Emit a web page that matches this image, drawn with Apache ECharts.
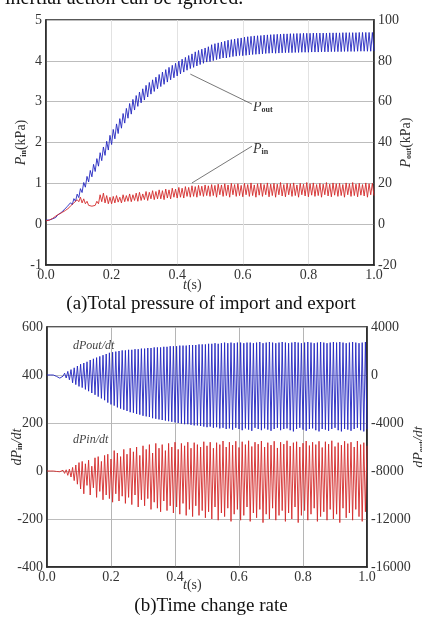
<!DOCTYPE html>
<html>
<head>
<meta charset="utf-8">
<script src="https://cdn.jsdelivr.net/npm/echarts@6/dist/echarts.min.js"></script>
<style>
  html, body { margin: 0; padding: 0; background: #fff; }
  #chart { width: 422px; height: 621px; }
</style>
</head>
<body>
<div id="chart"></div>
<script>
// sampling step of all four traces (s)
const T_STEP = 0.005;
const xTicks = ['0.0', '0.2', '0.4', '0.6', '0.8', '1.0'];

// (a) outlet pressure, kPa (right axis)
const pOut = [
  2.0, 2.3, 2.0, 2.8, 2.6, 3.5, 3.3, 4.4, 4.3, 5.5,
  5.3, 7.0, 6.6, 8.7, 8.0, 10.5, 9.5, 12.5, 11.2, 14.7,
  13.0, 17.4, 15.5, 20.4, 18.1, 23.4, 20.7, 26.3, 23.2, 29.3,
  25.8, 32.1, 28.4, 35.0, 31.1, 37.8, 33.7, 40.6, 36.3, 43.5,
  39.0, 46.4, 41.8, 49.1, 44.4, 51.7, 47.0, 54.2, 49.5, 56.7,
  51.9, 59.1, 53.9, 61.1, 55.9, 63.0, 57.7, 64.7, 59.4, 66.3,
  60.8, 68.0, 62.3, 69.4, 63.7, 70.7, 65.0, 72.0, 66.3, 73.3,
  67.4, 74.5, 68.5, 75.7, 69.6, 76.8, 70.7, 77.8, 71.7, 78.8,
  72.6, 79.9, 73.6, 80.8, 74.5, 81.7, 75.4, 82.6, 76.2, 83.4,
  76.8, 84.4, 77.5, 85.1, 78.2, 85.7, 78.8, 86.3, 79.4, 86.9,
  79.6, 87.9, 80.1, 88.4, 80.6, 88.8, 81.0, 89.2, 81.4, 89.6,
  81.4, 90.1, 81.8, 90.4, 82.1, 90.7, 82.3, 91.0, 82.6, 91.2,
  82.5, 91.6, 82.7, 91.8, 82.9, 92.0, 83.1, 92.2, 83.2, 92.3,
  83.3, 92.4, 83.4, 92.6, 83.6, 92.7, 83.7, 92.8, 83.8, 92.9,
  83.7, 93.0, 83.8, 93.1, 83.9, 93.2, 84.0, 93.2, 84.0, 93.3,
  84.0, 93.3, 84.1, 93.4, 84.1, 93.4, 84.2, 93.5, 84.2, 93.5,
  84.2, 93.5, 84.3, 93.6, 84.3, 93.6, 84.3, 93.6, 84.4, 93.6,
  84.4, 93.6, 84.4, 93.7, 84.5, 93.7, 84.5, 93.7, 84.5, 93.7,
  84.5, 93.8, 84.6, 93.8, 84.6, 93.8, 84.6, 93.8, 84.6, 93.8,
  84.7, 93.9, 84.7, 93.9, 84.7, 93.9, 84.7, 93.9, 84.7, 93.9,
  84.8
];

// (a) inlet pressure, kPa (left axis)
const pIn = [
  0.08, 0.09, 0.10, 0.12, 0.14, 0.17, 0.20, 0.22, 0.25, 0.27,
  0.29, 0.32, 0.34, 0.38, 0.40, 0.45, 0.43, 0.52, 0.48, 0.60,
  0.55, 0.66, 0.52, 0.62, 0.50, 0.56, 0.46, 0.50, 0.44, 0.48,
  0.46, 0.56, 0.50, 0.72, 0.55, 0.76, 0.52, 0.70, 0.50, 0.66,
  0.50, 0.68, 0.52, 0.70, 0.54, 0.66, 0.52, 0.72, 0.55, 0.70,
  0.56, 0.74, 0.55, 0.72, 0.58, 0.76, 0.56, 0.78, 0.58, 0.74,
  0.60, 0.80, 0.58, 0.78, 0.62, 0.82, 0.60, 0.80, 0.62, 0.84,
  0.62, 0.82, 0.60, 0.86, 0.64, 0.84, 0.62, 0.88, 0.66, 0.86,
  0.64, 0.90, 0.66, 0.88, 0.64, 0.92, 0.68, 0.90, 0.66, 0.94,
  0.68, 0.92, 0.66, 0.95, 0.70, 0.93, 0.68, 0.96, 0.70, 0.94,
  0.68, 0.97, 0.70, 0.95, 0.66, 0.98, 0.72, 0.96, 0.68, 0.99,
  0.70, 0.96, 0.66, 1.00, 0.72, 0.97, 0.68, 0.99, 0.70, 0.95,
  0.67, 1.00, 0.72, 0.97, 0.68, 1.01, 0.70, 0.96, 0.66, 0.99,
  0.71, 1.00, 0.68, 0.97, 0.72, 1.01, 0.67, 0.98, 0.70, 1.00,
  0.66, 0.98, 0.72, 1.02, 0.69, 0.97, 0.67, 1.00, 0.72, 0.99,
  0.68, 1.01, 0.70, 0.96, 0.66, 1.00, 0.72, 0.98, 0.69, 1.02,
  0.67, 0.99, 0.71, 1.01, 0.68, 0.97, 0.70, 1.00, 0.66, 0.98,
  0.72, 1.02, 0.69, 0.98, 0.67, 1.01, 0.71, 0.99, 0.68, 1.00,
  0.70, 0.97, 0.66, 1.01, 0.72, 0.99, 0.68, 1.02, 0.70, 0.98,
  0.67, 1.00, 0.71, 0.97, 0.69, 1.01, 0.66, 0.99, 0.72, 1.00,
  0.70
];

// (b) dPout/dt (right axis)
const dPout = [
  0, 0, 5, 10, 0, -40, -120, -220, -260, -180,
  -100, 150, -250, 300, -400, 450, -650, 600, -800, 750,
  -950, 900, -1050, 1000, -1200, 1100, -1350, 1250, -1500, 1350,
  -1650, 1450, -1800, 1550, -1950, 1650, -2100, 1750, -2300, 1850,
  -2450, 1900, -2550, 1950, -2700, 2000, -2800, 2050, -2900, 2050,
  -3000, 2100, -3100, 2100, -3150, 2150, -3250, 2150, -3300, 2200,
  -3400, 2200, -3450, 2250, -3500, 2250, -3600, 2300, -3650, 2300,
  -3700, 2300, -3750, 2350, -3800, 2350, -3850, 2400, -3900, 2400,
  -3950, 2400, -4000, 2450, -4050, 2450, -4100, 2450, -4100, 2500,
  -4150, 2500, -4200, 2500, -4200, 2550, -4250, 2550, -4300, 2550,
  -4350, 2600, -4300, 2600, -4400, 2650, -4350, 2600, -4450, 2650,
  -4400, 2700, -4500, 2650, -4450, 2700, -4550, 2650, -4400, 2700,
  -4500, 2700, -4600, 2650, -4450, 2700, -4550, 2700, -4650, 2650,
  -4400, 2700, -4500, 2750, -4600, 2650, -4450, 2700, -4550, 2750,
  -4650, 2700, -4500, 2650, -4400, 2700, -4600, 2750, -4500, 2700,
  -4450, 2650, -4600, 2700, -4700, 2750, -4500, 2700, -4400, 2650,
  -4550, 2700, -4650, 2750, -4500, 2700, -4450, 2650, -4600, 2700,
  -4700, 2750, -4500, 2700, -4550, 2650, -4650, 2700, -4500, 2750,
  -4400, 2700, -4600, 2750, -4700, 2700, -4500, 2650, -4550, 2700,
  -4650, 2750, -4500, 2700, -4400, 2650, -4600, 2700, -4700, 2750,
  -4500
];

// (b) dPin/dt (left axis)
const dPin = [
  0, 0, 0, 0, 0, -1, -2, 0, -3, -5,
  3, -10, 5, -18, 8, -25, 15, -40, 25, -55,
  35, -75, 40, -95, 30, -60, 45, -100, 20, -70,
  55, -110, 60, -85, 40, -120, 65, -100, 70, -115,
  50, -130, 85, -95, 75, -125, 60, -105, 90, -135,
  70, -110, 95, -140, 80, -100, 100, -150, 65, -120,
  105, -145, 90, -115, 110, -160, 75, -130, 115, -155,
  95, -170, 110, -125, 85, -165, 115, -145, 100, -175,
  120, -150, 90, -180, 115, -135, 105, -185, 120, -160,
  95, -190, 118, -145, 110, -185, 100, -165, 122, -195,
  105, -170, 120, -200, 95, -150, 118, -205, 110, -175,
  125, -190, 100, -155, 120, -210, 108, -180, 124, -160,
  98, -205, 122, -185, 110, -150, 126, -210, 102, -175,
  120, -195, 112, -160, 125, -215, 100, -180, 118, -200,
  108, -155, 124, -205, 96, -185, 120, -165, 112, -210,
  126, -175, 104, -200, 118, -150, 122, -215, 100, -185,
  116, -165, 125, -205, 106, -180, 120, -155, 110, -210,
  124, -190, 98, -170, 122, -205, 112, -160, 126, -200,
  102, -180, 118, -215, 108, -155, 124, -195, 114, -175,
  120, -205, 100, -160, 125, -190, 110, -210, 118, -170,
  105
];

// leader lines of the labels in (a), [t, value]
const pOutLeader = [[0.44, 73.5], [0.628, 58.8]];
const pInLeader = [[0.445, 1.01], [0.628, 1.91]];

const SERIF = 'Liberation Serif';
const BLUE = '#2226c0';
const RED = '#d42a2a';

function pairs(values) {
  return values.map((v, i) => [Math.round(i * T_STEP * 1000) / 1000, v]);
}

function xAxisFor(gridIndex) {
  return {
    type: 'value', gridIndex, min: 0, max: 1, interval: 0.2,
    axisLine: {show: true, onZero: false, lineStyle: {color: '#222', width: 1.5}},
    axisTick: {show: false},
    axisLabel: {
      margin: 3, color: '#333', fontFamily: SERIF, fontSize: 14,
      formatter: v => xTicks[Math.round(v / 0.2)]
    },
    splitLine: {show: true, lineStyle: {color: gridIndex === 0 ? '#e2e2e2' : '#b5b5b5', width: 1}}
  };
}

function yAxisFor(gridIndex, position, min, max, interval, name, nameGap, split) {
  return {
    type: 'value', gridIndex, position, min, max, interval,
    axisLine: {show: true, onZero: false, lineStyle: {color: '#222', width: 1.5}},
    axisTick: {show: false},
    axisLabel: {margin: 4, color: '#333', fontFamily: SERIF, fontSize: 14, formatter: v => String(v)},
    splitLine: {show: split, lineStyle: {color: '#bdbdbd', width: 1}},
    name, nameLocation: 'middle', nameRotate: 90, nameGap, nameMoveOverlap: false,
    nameTextStyle: {
      color: '#333', fontFamily: SERIF, fontSize: 14,
      rich: {
        i: {fontFamily: SERIF, fontStyle: 'italic', fontSize: 14, color: '#333'},
        s: {fontFamily: SERIF, fontWeight: 'bold', fontSize: 8, color: '#333', padding: [6, 0, 0, 0]},
        n: {fontFamily: SERIF, fontSize: 14, color: '#333'}
      }
    }
  };
}

const chart = echarts.init(document.getElementById('chart'), null, {renderer: 'canvas'});

const lineStyleOf = color => ({color, width: 0.9});

chart.setOption({
  animation: false,
  backgroundColor: '#fff',
  grid: [
    {left: 46, right: 48, top: 20, height: 245, show: true, borderColor: '#222', borderWidth: 1.5,
      containLabel: false, outerBoundsMode: 'none'},
    {left: 47, right: 55, top: 327, height: 240, show: true, borderColor: '#222', borderWidth: 1.5,
      containLabel: false, outerBoundsMode: 'none'}
  ],
  xAxis: [xAxisFor(0), xAxisFor(1)],
  yAxis: [
    yAxisFor(0, 'left', -1, 5, 1, '{i|P}{s|in}{n|(kPa)}', 18, true),
    yAxisFor(0, 'right', -20, 100, 20, '{i|P}{s|out}{n|(kPa)}', 25, false),
    yAxisFor(1, 'left', -400, 600, 200, '{i|dP}{s|in}{i|/dt}', 23, true),
    yAxisFor(1, 'right', -16000, 4000, 4000, '{i|dP}{s|out}{i|/dt}', 45, false)
  ],
  series: [
    {
      name: 'Pout', type: 'line', xAxisIndex: 0, yAxisIndex: 1, data: pairs(pOut),
      showSymbol: false, lineStyle: lineStyleOf(BLUE), z: 3,
      markLine: {
        silent: true, symbol: 'none', label: {show: false},
        lineStyle: {color: '#555', width: 0.8, type: 'solid'},
        data: [[{coord: pOutLeader[0]}, {coord: pOutLeader[1]}]]
      }
    },
    {
      name: 'Pin', type: 'line', xAxisIndex: 0, yAxisIndex: 0, data: pairs(pIn),
      showSymbol: false, lineStyle: lineStyleOf(RED), z: 3,
      markLine: {
        silent: true, symbol: 'none', label: {show: false},
        lineStyle: {color: '#555', width: 0.8, type: 'solid'},
        data: [[{coord: pInLeader[0]}, {coord: pInLeader[1]}]]
      }
    },
    {
      name: 'dPout/dt', type: 'line', xAxisIndex: 1, yAxisIndex: 3, data: pairs(dPout),
      showSymbol: false, lineStyle: lineStyleOf(BLUE), z: 3
    },
    {
      name: 'dPin/dt', type: 'line', xAxisIndex: 1, yAxisIndex: 2, data: pairs(dPin),
      showSymbol: false, lineStyle: lineStyleOf(RED), z: 3
    }
  ],
  graphic: [
    {type: 'text', left: 5, top: -11, style: {text: 'inertial action can be ignored.', font: '20px "Liberation Serif"', fill: '#111'}},
    {type: 'text', left: 253, top: 100, style: {
      text: '{i|P}{s|out}', fill: '#333',
      rich: {i: {font: 'italic 14px "Liberation Serif"'}, s: {font: 'bold 8px "Liberation Serif"', padding: [5, 0, 0, 0]}}
    }},
    {type: 'text', left: 253, top: 142, style: {
      text: '{i|P}{s|in}', fill: '#333',
      rich: {i: {font: 'italic 14px "Liberation Serif"'}, s: {font: 'bold 8px "Liberation Serif"', padding: [5, 0, 0, 0]}}
    }},
    {type: 'text', left: 183, top: 278, style: {text: '{i|t}{n|(s)}', fill: '#333',
      rich: {i: {font: 'italic 14px "Liberation Serif"'}, n: {font: '14px "Liberation Serif"'}}}},
    {type: 'text', left: 'center', top: 295, style: {text: '(a)Total pressure of import and export', font: '19px "Liberation Serif"', fill: '#111'}},
    {type: 'text', left: 73, top: 340, style: {text: 'dPout/dt', font: 'italic 12px "Liberation Serif"', fill: '#444'}},
    {type: 'text', left: 73, top: 434, style: {text: 'dPin/dt', font: 'italic 12px "Liberation Serif"', fill: '#444'}},
    {type: 'text', left: 183, top: 578, style: {text: '{i|t}{n|(s)}', fill: '#333',
      rich: {i: {font: 'italic 14px "Liberation Serif"'}, n: {font: '14px "Liberation Serif"'}}}},
    {type: 'text', left: 'center', top: 597, style: {text: '(b)Time change rate', font: '19px "Liberation Serif"', fill: '#111'}}
  ]
});
</script>
</body>
</html>
